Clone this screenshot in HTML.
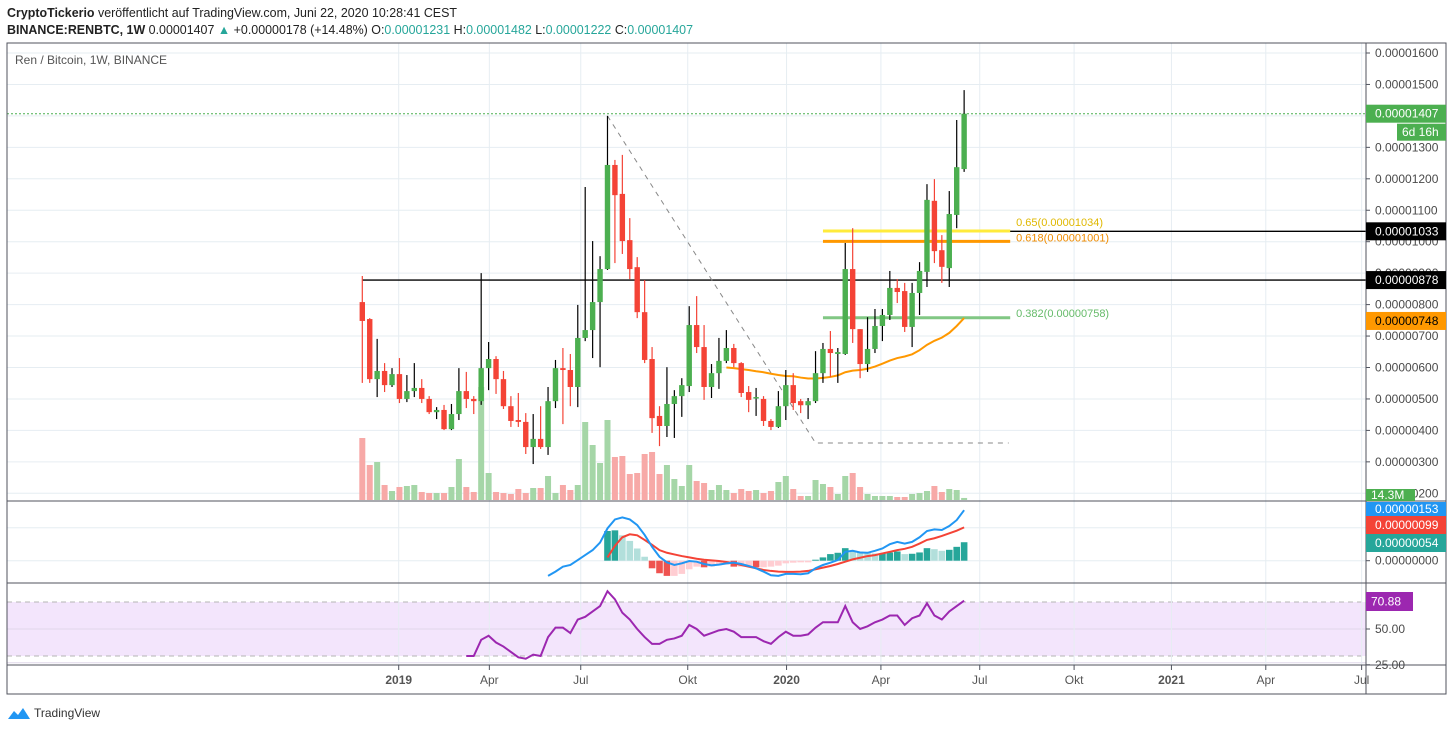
<!DOCTYPE html>
<html><head><meta charset="utf-8"><style>
html,body{margin:0;padding:0;background:#fff;width:1453px;height:731px;overflow:hidden}
svg{display:block;font-family:"Liberation Sans",sans-serif}
</style></head><body>
<svg id="c" width="1453" height="731" xmlns="http://www.w3.org/2000/svg">
<text x="7" y="17" font-size="12.5" fill="#222" textLength="450" lengthAdjust="spacingAndGlyphs"><tspan font-weight="bold">CryptoTickerio</tspan> veröffentlicht auf TradingView.com, Juni 22, 2020 10:28:41 CEST</text>
<text x="7" y="34" font-size="12.5" fill="#222" textLength="686" lengthAdjust="spacingAndGlyphs"><tspan font-weight="bold">BINANCE:RENBTC, 1W</tspan> 0.00001407 <tspan fill="#26a69a">▲</tspan> +0.00000178 (+14.48%) O:<tspan fill="#26a69a">0.00001231</tspan> H:<tspan fill="#26a69a">0.00001482</tspan> L:<tspan fill="#26a69a">0.00001222</tspan> C:<tspan fill="#26a69a">0.00001407</tspan></text>
<g id="grid"></g>
<g id="marks"></g>
<rect x="7" y="43" width="1439" height="651" fill="none" stroke="#50535e" stroke-width="1"/>
<line x1="1366" y1="43" x2="1366" y2="694" stroke="#50535e"/>
<line x1="7" y1="501" x2="1446" y2="501" stroke="#50535e"/>
<line x1="7" y1="583" x2="1446" y2="583" stroke="#50535e"/>
<line x1="7" y1="665" x2="1446" y2="665" stroke="#50535e"/>
<text x="15" y="64" font-size="12" fill="#555">Ren / Bitcoin, 1W, BINANCE</text>
<g id="axis"></g>
<g>
<path d="M8 719 L14 711 L18 715 L23 708 L30 719 Z" fill="#2196f3"/>
<text x="34" y="717" font-size="12" fill="#333">TradingView</text>
</g>
</svg>
<script>
const opens=[808,754,563,589,544,579,500,525,535,500,458,465,404,452,525,500,493,598,627,563,477,433,427,347,373,347,493,598,592,538,694,719,808,913,1244,1152,1005,919,776,627,446,414,484,509,541,735,665,538,582,621,662,614,522,503,500,430,411,477,544,493,480,493,582,659,643,643,913,722,611,659,732,767,853,843,729,837,904,1130,973,916,1085,1231];
const highs=[891,757,691,614,598,630,576,614,563,509,474,481,484,598,586,509,900,681,636,589,509,519,455,452,477,538,624,662,643,799,1174,1002,954,1400,1260,1276,1075,951,878,665,477,601,528,566,795,827,735,611,694,719,675,617,541,535,509,436,525,592,582,500,503,652,678,716,662,996,1043,722,760,786,786,907,881,869,869,935,1183,1199,1021,1161,1387,1482];
const lows=[551,551,506,522,538,487,490,506,487,452,436,401,401,433,471,452,481,528,516,468,411,411,325,293,341,322,471,420,477,474,684,630,601,910,932,961,881,757,614,392,350,379,376,443,522,646,497,503,532,614,601,506,458,446,414,401,408,433,465,455,436,487,551,570,551,640,678,566,586,646,684,751,805,713,665,767,856,932,869,856,1043,1222];
const closes=[748,563,589,544,579,500,525,535,500,458,465,404,452,525,500,493,598,627,563,477,430,427,347,373,347,493,598,592,538,694,719,808,913,1244,1148,1002,913,776,624,439,414,484,509,544,735,665,538,582,621,662,614,519,497,506,430,411,477,544,487,480,493,582,659,646,649,913,722,611,659,732,767,853,840,729,837,907,1133,970,920,1088,1237,1407];
const volumes=[434,245,266,105,63,91,98,105,56,49,49,49,91,287,91,56,791,189,56,49,42,77,49,84,84,168,49,105,70,105,546,385,259,560,301,308,182,189,322,336,182,245,147,98,245,133,119,70,105,70,49,77,63,70,49,63,126,168,77,28,28,140,112,91,42,168,189,91,42,28,28,28,21,21,42,49,63,98,56,77,70,14.3];
const maStart=49;
const maValues=[600,598,595,592,588,585,580,576,573,572,568,565,565,567,570,575,585,590,592,596,603,612,622,630,635,642,655,672,685,695,710,732,757];
const macdStart=25;
const macdValues=[-46,-33,-18,-13,2,17,32,55,98,125,131,125,108,78,42,12,-5,-13,-8,-1,-3,-10,-14,-12,-8,-6,-10,-16,-23,-33,-44,-46,-40,-40,-41,-38,-23,-13,-6,2,27,30,25,24,30,37,50,57,52,57,71,90,95,93,105,123,153];
const signalStart=33;
const signalValues=[10,45,71,80,77,63,48,32,24,19,14,10,6,3,1,-1,-4,-8,-13,-18,-23,-28,-31,-33,-34,-34,-33,-31,-26,-21,-16,-10,-3,4,9,14,17,22,27,32,36,42,52,63,68,75,83,91,101];
const histValues=[90,92,77,60,37,12,-23,-38,-46,-46,-40,-26,-18,-20,-18,-14,-12,-18,-18,-18,-20,-20,-18,-15,-8,-6,-5,-5,3,10,20,24,38,30,28,26,22,22,25,28,20,21,25,38,35,30,33,42,56];
const rsiStart=14;
const rsiValues=[30,30,42,45,40,37,33,29,28,31,30,44,51,51,47,57,59,63,67,78,72,62,57,50,44,39,39,42,43,45,53,50,45,47,49,50,48,44,44,44,41,39,44,48,45,45,46,51,55,55,55,67,55,50,52,55,57,60,60,53,58,60,69,60,57,63,67,71];
const priceTicks=[1600,1500,1400,1300,1200,1100,1000,900,800,700,600,500,400,300,200];
const timeLabels=["2019","Apr","Jul","Okt","2020","Apr","Jul","Okt","2021","Apr","Jul"];
const timeWeeks=[4.9,17.1,29.4,43.8,57.1,69.8,83.1,95.8,108.9,121.6,134.5];

const NS="http://www.w3.org/2000/svg";
const X=i=>362.3+7.43*i;
const PY=v=>53+(1600-v)*0.3145;
const MY=v=>560.7-v*0.33;
const RY=v=>629-(v-50)*1.35;
const VY=v=>500-v/7;
function mk(tag,attrs,parent){const e=document.createElementNS(NS,tag);for(const k in attrs)e.setAttribute(k,attrs[k]);parent.appendChild(e);return e;}
const grid=document.getElementById('grid'),marks=document.getElementById('marks'),axis=document.getElementById('axis');

// grid
priceTicks.forEach(t=>{const l=mk('line',{x1:7,x2:1366,y1:PY(t),y2:PY(t),stroke:'#e6edf2'},grid);

});
[527.7,560.7].forEach(y=>mk('line',{x1:7,x2:1366,y1:y,y2:y,stroke:'#e6edf2'},grid));
const band=mk('rect',{x:7,y:RY(70),width:1359,height:RY(30)-RY(70),fill:'#f3e5fc'},grid);


[RY(50),RY(25)].forEach(y=>mk('line',{x1:7,x2:1366,y1:y,y2:y,stroke:'#e0d8ea'},grid));
[RY(70),RY(30)].forEach(y=>mk('line',{x1:7,x2:1366,y1:y,y2:y,stroke:'#b5b5b5','stroke-dasharray':'5,4'},grid));
timeWeeks.forEach((w,k)=>{const x=X(w);
mk('line',{x1:x,x2:x,y1:43,y2:665,stroke:'#e6edf2'},grid);
mk('line',{x1:x,x2:x,y1:665,y2:670,stroke:'#50535e'},axis);
const t=mk('text',{x:x,y:684,'font-size':12,fill:'#555','text-anchor':'middle','font-weight':/^\d/.test(timeLabels[k])?'bold':'normal'},axis);
t.textContent=timeLabels[k];

});

// volume
volumes.forEach((v,i)=>{const up=closes[i]>=opens[i];
const r=mk('rect',{x:X(i)-3,y:VY(v),width:6,height:500-VY(v),fill:up?'#a5d6a7':'#f7a9a7'},marks);

});

// price lines
mk('line',{x1:7,x2:1366,y1:PY(1407),y2:PY(1407),stroke:'#4caf50','stroke-dasharray':'2,2'},marks);
mk('line',{x1:X(0),x2:1366,y1:PY(878),y2:PY(878),stroke:'#000','stroke-width':1.3},marks);
mk('line',{x1:X(65),x2:1366,y1:PY(1033),y2:PY(1033),stroke:'#000','stroke-width':1.3},marks);
mk('polyline',{points:`${X(33)},${PY(1400)} ${X(61)},${PY(360)} ${X(87)},${PY(360)}`,fill:'none',stroke:'#888','stroke-dasharray':'5,5'},marks);
[[1034,'#ffeb3b','0.65(0.00001034)','#e0b800'],[1001,'#ff9800','0.618(0.00001001)','#f08c00'],[758,'#81c784','0.382(0.00000758)','#66bb6a']].forEach(f=>{
const l=mk('line',{x1:X(62),x2:X(87.2),y1:PY(f[0]),y2:PY(f[0]),stroke:f[1],'stroke-width':3},marks);


const t=mk('text',{x:X(88),y:PY(f[0])-(f[0]==1034?5:f[0]==1001?0:1),'font-size':11,fill:f[3]},marks);t.textContent=f[2];

});

// moving average
mk('polyline',{points:maValues.map((v,k)=>X(maStart+k)+','+PY(v)).join(' '),fill:'none',stroke:'#ff9800','stroke-width':2},marks);

// candles
opens.forEach((o,i)=>{const c=closes[i],up=c>=o,x=X(i),col=up?'#4caf50':'#f44336';
const g=mk('g',{},marks);


mk('line',{x1:x,x2:x,y1:PY(highs[i]),y2:PY(lows[i]),stroke:up?'#000':'#f44336','stroke-width':1.2},g);
const t=PY(Math.max(o,c)),b=PY(Math.min(o,c));
mk('rect',{x:x-2.7,y:t,width:5.4,height:Math.max(1.5,b-t),fill:col},g);});

// MACD histogram
histValues.forEach((v,k)=>{const i=signalStart+k,prev=k>0?histValues[k-1]:0;
let col=v>=0?(v>=prev?'#26a69a':'#b2dfdb'):(v<prev?'#ef5350':'#ffcdd2');
const y0=MY(0),y1=MY(v);
const r=mk('rect',{x:X(i)-3.3,y:Math.min(y0,y1),width:6.6,height:Math.abs(y1-y0),fill:col},marks);

});
mk('polyline',{points:signalValues.map((v,k)=>X(signalStart+k)+','+MY(v)).join(' '),fill:'none',stroke:'#f44336','stroke-width':2},marks);
mk('polyline',{points:macdValues.map((v,k)=>X(macdStart+k)+','+MY(v)).join(' '),fill:'none',stroke:'#2196f3','stroke-width':2},marks);
// RSI
mk('polyline',{points:rsiValues.map((v,k)=>X(rsiStart+k)+','+RY(v)).join(' '),fill:'none',stroke:'#9c27b0','stroke-width':2},marks);

// price axis labels
priceTicks.forEach(t=>{mk('line',{x1:1366,x2:1370,y1:PY(t),y2:PY(t),stroke:'#50535e'},axis);
const tx=mk('text',{x:1375,y:PY(t)+4,'font-size':12,fill:'#4a4a4a'},axis);tx.textContent='0.0000'+String(t).padStart(4,'0');

});
[[MY(0),'0.00000000'],[RY(50),'50.00'],[RY(25)+2,'25.00']].forEach(a=>{const tx=mk('text',{x:1375,y:a[0]+4,'font-size':12,fill:'#4a4a4a'},axis);tx.textContent=a[1];
mk('line',{x1:1366,x2:1370,y1:a[0],y2:a[0],stroke:'#50535e'},axis);});
function badge(x,y,w,h,bg,fg,txt,name){const g=mk('g',{},axis);


mk('rect',{x:x,y:y,width:w,height:h,fill:bg},g);const t=mk('text',{x:x+(w>60?9:5),y:y+h/2+4,'font-size':12,fill:fg},g);t.textContent=txt;}
badge(1366,PY(1407)-9,80,18,'#4caf50','#fff','0.00001407','last-price-badge');
badge(1397,PY(1407)+10,49,17,'#4caf50','#fff','6d 16h','countdown-badge');
badge(1366,PY(1033)-9,80,18,'#000','#fff','0.00001033','level-1033-badge');
badge(1366,PY(878)-9,80,18,'#000','#fff','0.00000878','level-878-badge');
badge(1366,PY(748)-9,80,18,'#ff9800','#000','0.00000748','ma-badge');
badge(1366,489,49,12,'#4caf50','#fff','14.3M','volume-badge');
badge(1366,502,80,14,'#2196f3','#fff','0.00000153','macd-badge');
badge(1366,516,80,18,'#f44336','#fff','0.00000099','signal-badge');
badge(1366,534,80,18,'#26a69a','#fff','0.00000054','histogram-badge');
badge(1366,592,47,19,'#9c27b0','#fff','70.88','rsi-badge');
</script>
</body></html>
